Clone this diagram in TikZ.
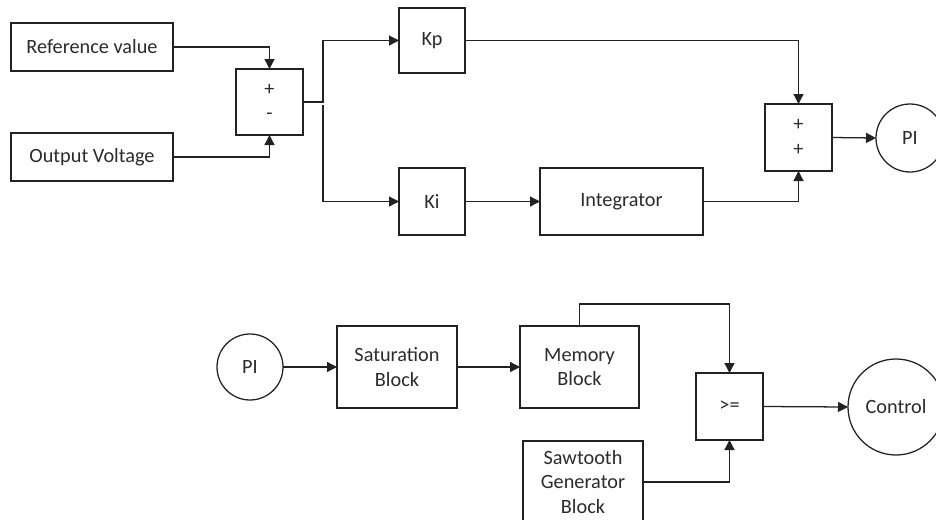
\documentclass[tikz,border=0pt]{standalone}
\usepackage{fontspec}
\setmainfont{Carlito}
\usetikzlibrary{arrows.meta}
\definecolor{ln}{HTML}{222222}
\definecolor{tx}{HTML}{2B2B2B}
\begin{document}
\begin{tikzpicture}[x=0.75pt,y=-0.75pt,
  every node/.style={font=\fontsize{15.2}{18.5}\selectfont, text=tx},
  blk/.style={draw=ln, line width=0.95pt, inner sep=0pt, outer sep=0pt, align=center},
  circ/.style={draw=ln, line width=0.95pt, circle, inner sep=0pt, outer sep=0pt},
  arr/.style={draw=ln, line width=0.95pt, -{Triangle[length=7.5pt,width=7.5pt]}},
  ln/.style={draw=ln, line width=0.95pt}]
\useasboundingbox (0,0) rectangle (936,519);
\clip (0,0) rectangle (936,519);
% top
\node[blk, minimum width=121.5pt, minimum height=36pt] (ref) at (92,47) {Reference value};
\node[blk, minimum width=121.5pt, minimum height=36pt] (out) at (92,157) {Output Voltage};
\node[blk, minimum width=50.25pt, minimum height=49.5pt] (sum1) at (269.5,102) {+\\-};
\node[blk, minimum width=49.5pt, minimum height=48.75pt] (kp) at (432,40.5) {Kp};
\node[blk, minimum width=49.5pt, minimum height=50.25pt] (ki) at (432,201.5) {Ki};
\node[blk, minimum width=122.25pt, minimum height=50.25pt] (integ) at (621.5,201.5) {Integrator};
\node[blk, minimum width=50.25pt, minimum height=50.25pt] (sum2) at (798.5,137.5) {+\\+};
\node[circ, minimum size=51pt] (pi1) at (910,138) {PI};
\coordinate (j) at (323,105);
\draw[arr] (ref.east) -| (sum1.north);
\draw[arr] (out.east) -| (sum1.south);
\draw[arr] (sum1.east) -- ++(20,0) |- (kp.west);
\draw[arr] (j) |- (ki.west);
\draw[arr] (ki.east) -- (integ.west);
\draw[arr] (kp.east) -| (sum2.north);
\draw[arr] (integ.east) -| (sum2.south);
\draw[arr] (sum2.east) -- (pi1.west);
% bottom
\node[circ, minimum size=49.5pt] (pi2) at (250,367) {PI};
\node[blk, minimum width=90pt, minimum height=61.5pt] (sat) at (397,367) {Saturation\\Block};
\node[blk, minimum width=89.25pt, minimum height=61.5pt] (mem) at (579.5,367) {Memory\\Block};
\node[blk, minimum width=50.25pt, minimum height=50.25pt] (ge) at (729.5,406.5) {>=};
\node[circ, minimum size=72pt] (ctrl) at (896,407) {Control};
\node[blk, minimum width=90pt, minimum height=61.5pt] (saw) at (583,482) {Sawtooth\\Generator\\Block};
\draw[arr] (pi2.east) -- (sat.west);
\draw[arr] (sat.east) -- (mem.west);
\draw[arr] (mem.north) -- ++(0,-22) -| (ge.north);
\draw[arr] (saw.east) -| (ge.south);
\draw[arr] (ge.east) -- (ctrl.west);
\end{tikzpicture}
\end{document}
